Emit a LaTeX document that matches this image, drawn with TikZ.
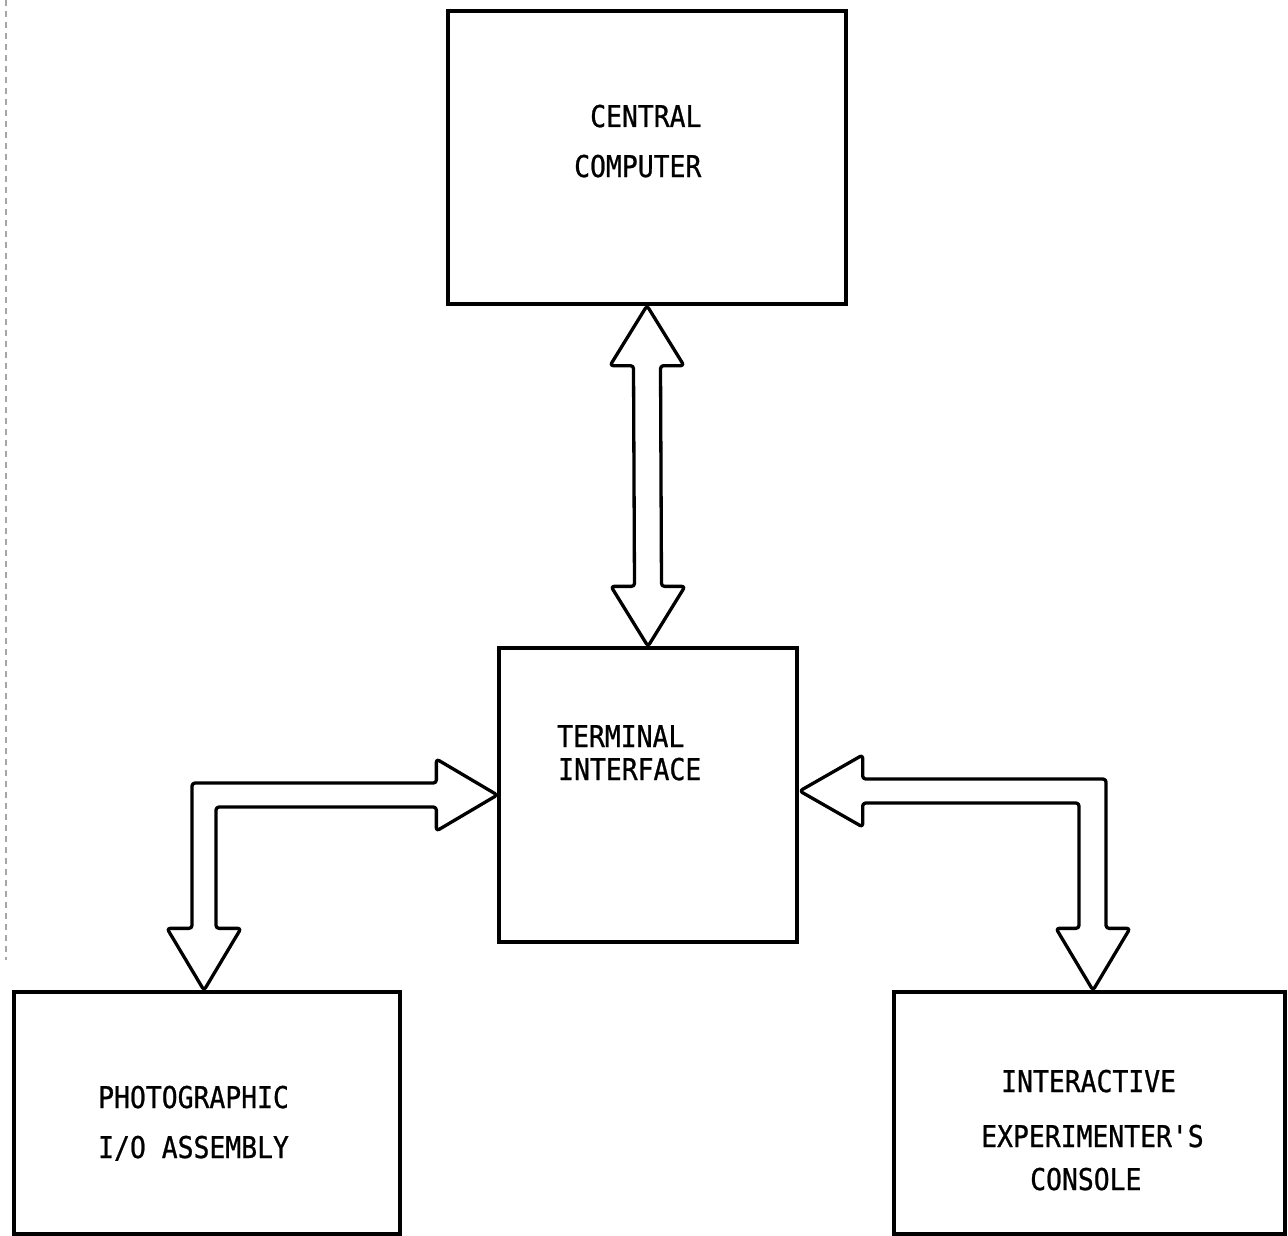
\documentclass[tikz,border=0pt]{standalone}
\usepackage{fontspec}
\newfontfamily\typew[FakeStretch=0.88,FakeBold=0.8]{DejaVu Sans Mono}
\usetikzlibrary{calc}
\begin{document}
\begin{tikzpicture}[x=1pt,y=-1pt,
  blk/.style={draw=black, line width=3.3pt, minimum width=#1, inner sep=0pt},
  lbl/.style={anchor=base west, inner sep=0pt, font=\typew\fontsize{30}{30}\selectfont},
  fatarrow/.style={draw=black, line width=3.3pt, line join=round, rounded corners=3pt, fill=white},
  scanline/.style={draw=black!35, line width=1.2pt, dash pattern=on 6pt off 5pt}]
\useasboundingbox (0,0) rectangle (1288,1236);
% scan edge
\draw[scanline] (6,0) -- (6,960);
% boxes
\node[blk=398pt, minimum height=293pt] (cc) at (647,157.5) {};
\node[blk=298pt, minimum height=294pt] (ti) at (648,795) {};
\node[blk=386pt, minimum height=242pt] (pio) at (207,1113) {};
\node[blk=391pt, minimum height=242pt] (iec) at (1089.5,1113) {};
% labels
\node[lbl] (cc1) at (590,127) {CENTRAL};
\node[lbl] (cc2) at (574,177) {COMPUTER};
\node[lbl] (ti1) at (557,747) {TERMINAL};
\node[lbl] (ti2) at (558,780) {INTERFACE};
\node[lbl] (pio1) at (98,1108) {PHOTOGRAPHIC};
\node[lbl] (pio2) at (98,1158) {I/O ASSEMBLY};
\node[lbl] (iec1) at (1001,1092) {INTERACTIVE};
\node[lbl] (iec2) at (981,1147) {EXPERIMENTER'S};
\node[lbl] (iec3) at (1030,1190) {CONSOLE};
% vertical double arrow
\draw[fatarrow] (cc.south) -- ++(37,60) -- ++(-23.5,0)
  -- ($(ti.north)+(13.5,-60)$) -- ++(23.5,0) -- (ti.north)
  -- ++(-37,-60) -- ++(23.5,0) -- ($(cc.south)+(-13.5,60)$) -- ++(-23.5,0) -- cycle;
% left L arrow
\coordinate (lt) at (ti.west);
\coordinate (lb) at ($(pio.north)+(-3,0)$);
\coordinate (lc) at (lb |- lt);
\draw[fatarrow] (lt) -- ++(-61,-36) -- ++(0,24) -- ($(lc)+(-12,-12)$)
  -- ($(lb)+(-12,-62)$) -- ++(-25,0) -- (lb) -- ++(37,-62) -- ++(-25,0)
  -- ($(lc)+(12,12)$) -- ($(lt)+(-61,12)$) -- ++(0,24) -- cycle;
% right L arrow
\coordinate (rt) at ($(ti.east)+(1,-4)$);
\coordinate (rb) at ($(iec.north)+(3.5,0)$);
\coordinate (rc) at (rb |- rt);
\draw[fatarrow] (rt) -- ++(63,-36) -- ++(0,24) -- ($(rc)+(13,-12)$)
  -- ($(rb)+(13,-62)$) -- ++(24,0) -- (rb) -- ++(-37,-62) -- ++(23,0)
  -- ($(rc)+(-14,12)$) -- ($(rt)+(63,12)$) -- ++(0,24) -- cycle;
\end{tikzpicture}
\end{document}
